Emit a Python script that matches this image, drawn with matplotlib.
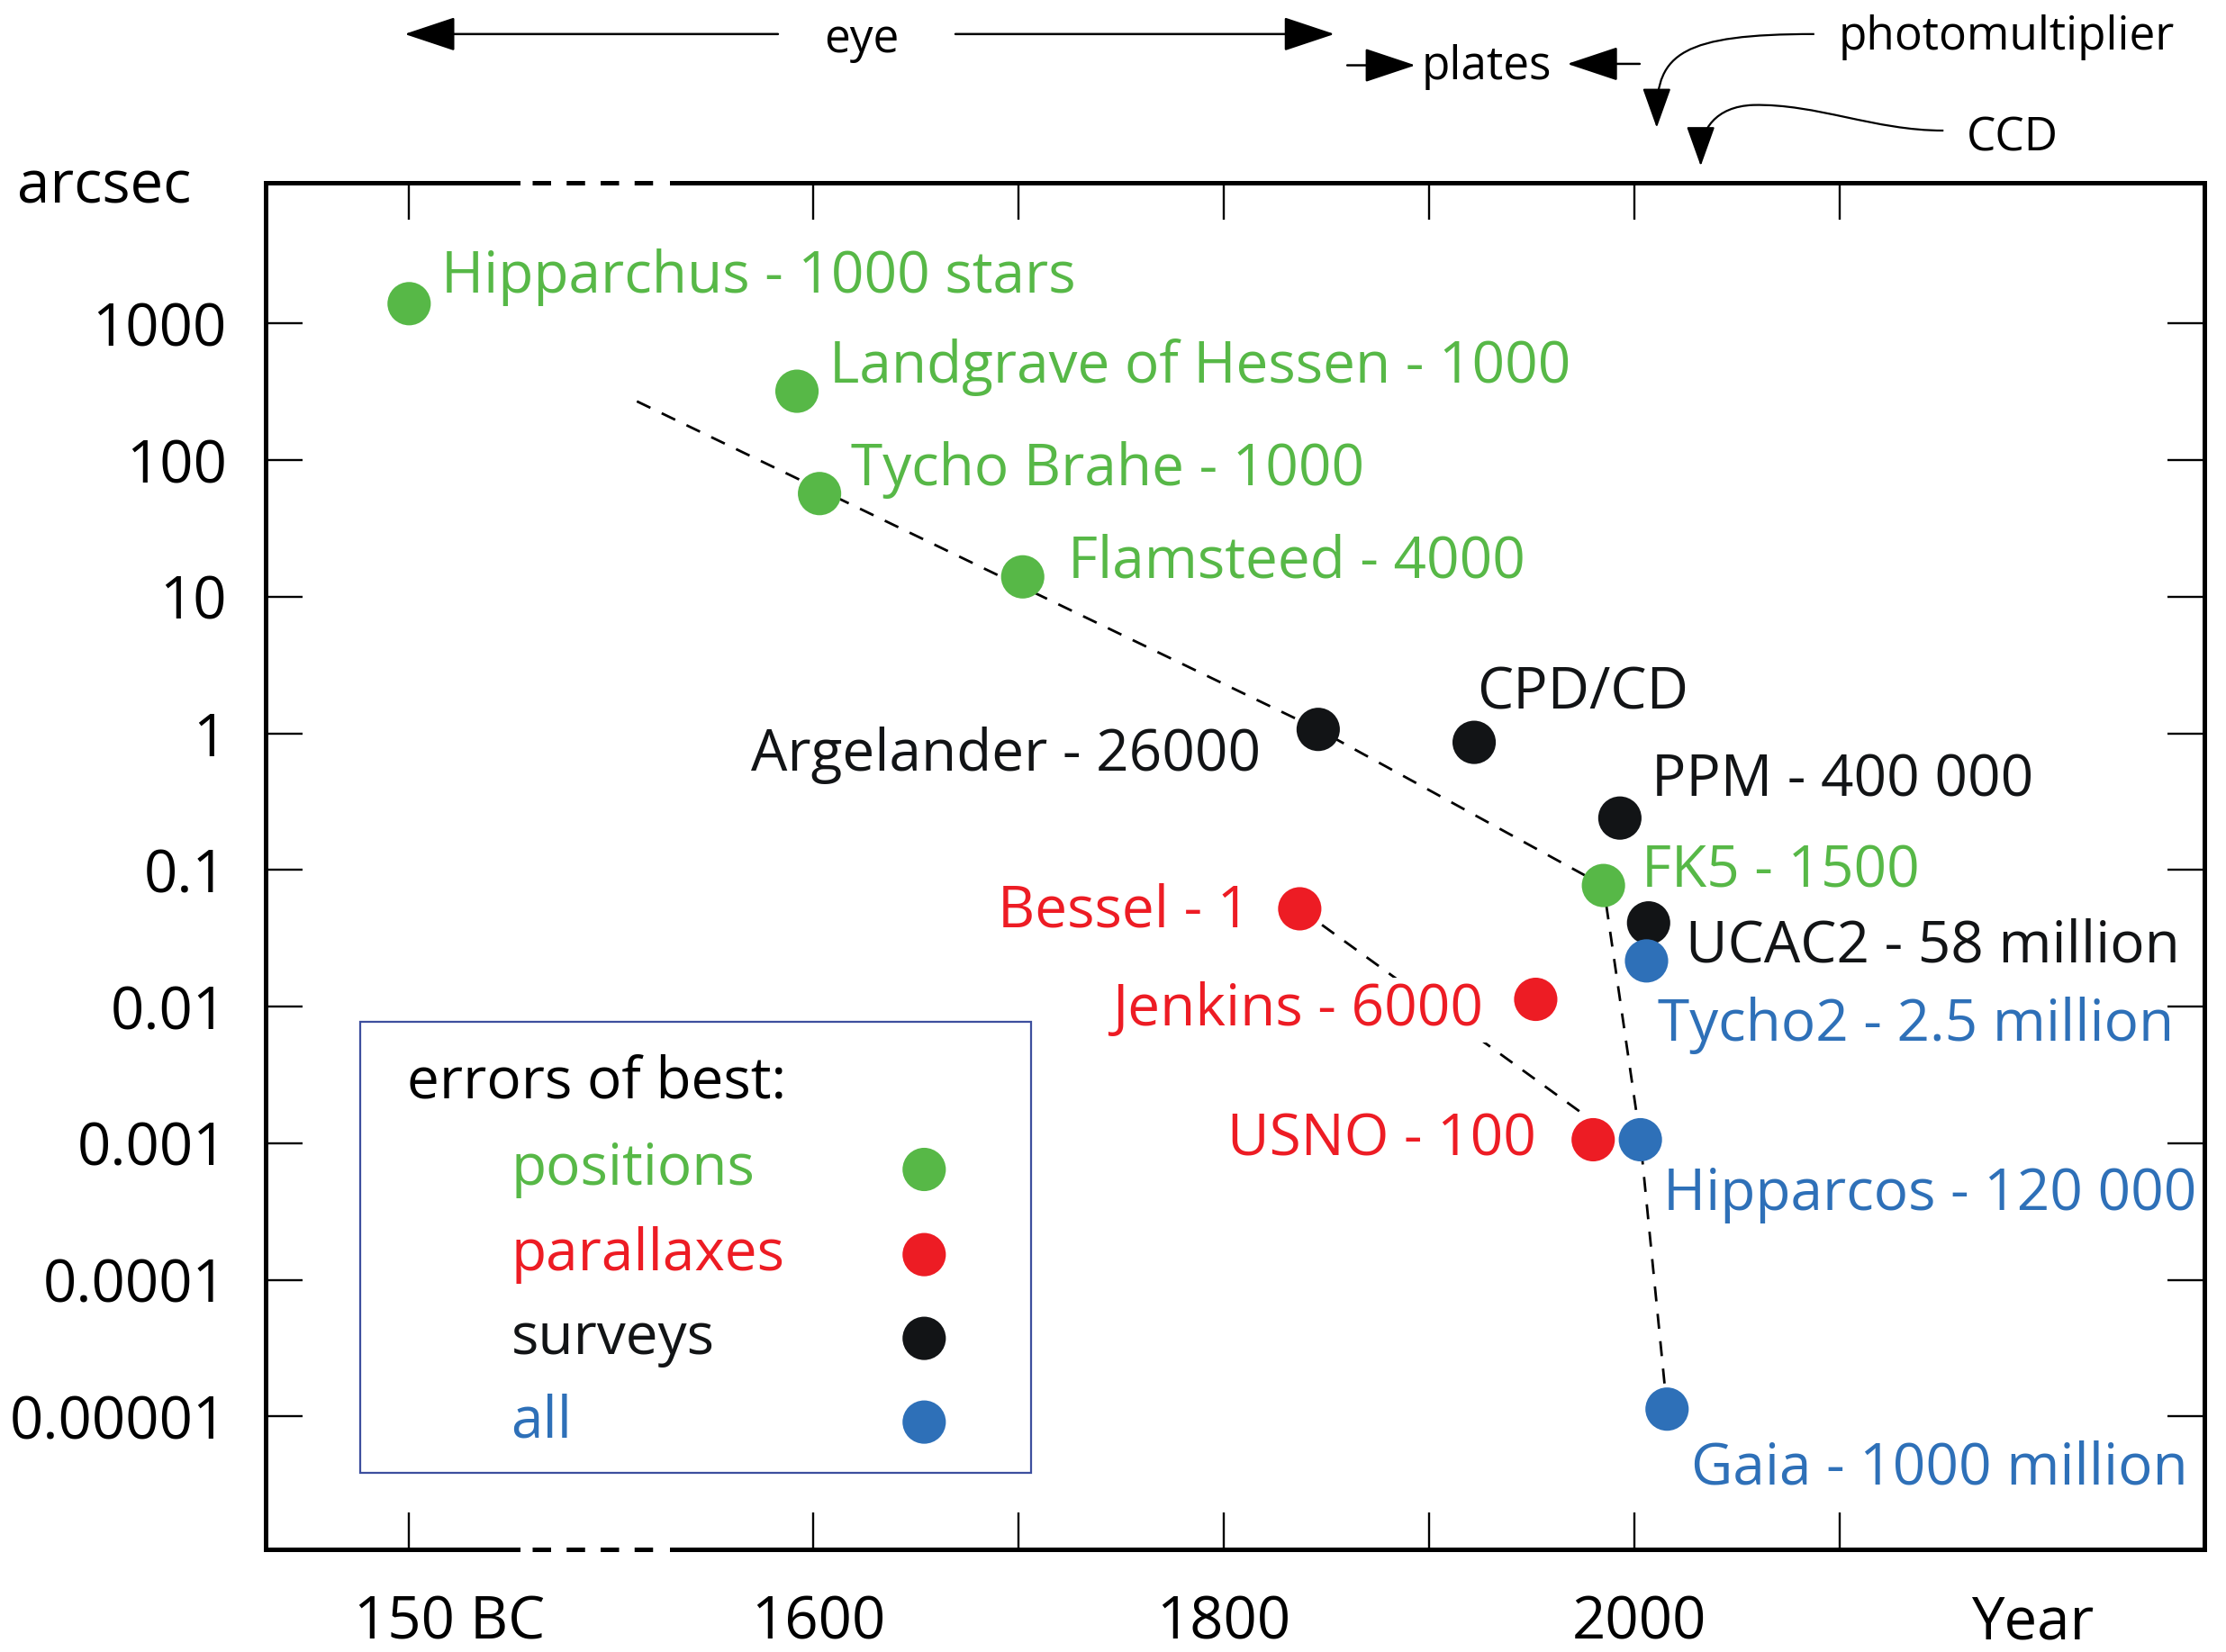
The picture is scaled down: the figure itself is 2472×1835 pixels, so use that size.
import numpy as np
import matplotlib
matplotlib.use("Agg")
import matplotlib.pyplot as plt
from matplotlib.patches import FancyArrowPatch, PathPatch, Rectangle, ArrowStyle
from matplotlib.path import Path
from matplotlib.transforms import Affine2D, blended_transform_factory

plt.rcParams['font.family'] = ['Open Sans', 'DejaVu Sans']

GREEN = '#57b847'
RED = '#ed1c24'
BLACK = '#121416'
BLUE = '#2e70b8'

# best errors (arcsec) against year; Hipparchus is 150 BC
pos_names = ['Hipparchus - 1000 stars', 'Landgrave of Hessen - 1000',
             'Tycho Brahe - 1000', 'Flamsteed - 4000', 'FK5 - 1500']
pos_years = [-150, 1592, 1603, 1702, 1985]
pos_err = [1400, 320, 57, 14, 0.077]

par_names = ['Bessel - 1', 'Jenkins - 6000', 'USNO - 100']
par_years = [1837, 1952, 1980]
par_err = [0.052, 0.0113, 0.00106]

srv_names = ['Argelander - 26000', 'CPD/CD', 'PPM - 400 000', 'UCAC2 - 58 million']
srv_years = [1846, 1922, 1993, 2007]
srv_err = [1.07, 0.86, 0.24, 0.041]

all_names = ['Tycho2 - 2.5 million', 'Hipparcos - 120 000', 'Gaia - 1000 million']
all_years = [2006, 2003, 2016]
all_err = [0.0216, 0.00106, 1.13e-5]

# dashed trend lines
trend_years = [1514, 1846, 1985, 2003, 2016]
trend_err = [270, 1.07, 0.077, 0.00106, 1.13e-5]
par_trend_years = [1837, 1976]
par_trend_err = [0.052, 0.0016]

ytick_vals = [1e3, 1e2, 1e1, 1, 0.1, 0.01, 1e-3, 1e-4, 1e-5]
ytick_labels = ['1000', '100', '10', '1', '0.1', '0.01', '0.001', '0.0001', '0.00001']
xtick_years = [-150, 1600, 1700, 1800, 1900, 2000, 2100]
xlabel_years = [-150, 1600, 1800, 2000]
xlabel_text = ['150 BC', '1600', '1800', '2000']

# label offsets (points) and alignment, per group
pos_off = [(13, 10.5, 'left'), (13, 9.5, 'left'), (12.5, 9.5, 'left'), (18, 6, 'left'), (15.3, 5.4, 'left')]
par_off = [(-20, -1, 'right'), (-21, -4.3, 'right'), (-22.7, -0.3, 'right')]
srv_off = [(-23, -10.5, 'right'), (1, 19.6, 'left'), (12.5, 15, 'left'), (14.8, -9.4, 'left')]
all_off = [(4.5, -25.8, 'left'), (9, -22, 'left'), (9.6, -24, 'left')]


def fwd(x):
    x = np.asarray(x, dtype=float)
    return np.where(x < 1000, x + 1553, x)


def inv(x):
    x = np.asarray(x, dtype=float)
    return np.where(x < 1494, x - 1553, x)


fig = plt.figure(figsize=(12.36, 9.175), dpi=200)
ref = Affine2D().scale(1 / 1568, -1 / 1164).translate(0, 1) + fig.transFigure
ax = fig.add_axes([0.11926, 0.061856, 0.87117, 0.82732])

ax.set_xscale('function', functions=(fwd, inv))
ax.set_yscale('log')
ax.set_xlim(-220, 2278)
ax.set_ylim(10 ** -5.977, 10 ** 4.029)

# trend lines
ax.plot(trend_years, trend_err, color='black', lw=1.0, ls=(0, (6, 5)), zorder=1)
ax.plot(par_trend_years, par_trend_err, color='black', lw=1.0, ls=(0, (6, 5)), zorder=1)

groups = [
    (pos_names, pos_years, pos_err, pos_off, GREEN),
    (par_names, par_years, par_err, par_off, RED),
    (srv_names, srv_years, srv_err, srv_off, BLACK),
    (all_names, all_years, all_err, all_off, BLUE),
]
for names, years, errs, offs, col in groups:
    ax.scatter(years, errs, s=300, color=col, edgecolors='none', zorder=3, clip_on=False)
    for name, yr, e, (dx, dy, ha) in zip(names, years, errs, offs):
        kw = {}
        if name.startswith('Jenkins'):
            kw['bbox'] = dict(facecolor='white', edgecolor='none', pad=1.5)
        ax.annotate(name, (yr, e), xytext=(dx, dy), textcoords='offset points',
                    ha=ha, va='center', fontsize=23, color=col, zorder=4, **kw)

# axes frame: broken top and bottom spines
ax.spines['top'].set_visible(False)
ax.spines['bottom'].set_visible(False)
for s in ['left', 'right']:
    ax.spines[s].set_linewidth(1.8)
bt = blended_transform_factory(ax.transData, ax.transAxes)
for yy in [0, 1]:
    ax.plot([-220, -97], [yy, yy], color='black', lw=1.8, transform=bt, clip_on=False,
            solid_capstyle='projecting')
    ax.plot([-90, 1522], [yy, yy], color='black', lw=1.8, transform=bt, clip_on=False,
            ls=(0, (4.1, 3.45)), dash_capstyle='butt')
    ax.plot([1531, 2278], [yy, yy], color='black', lw=1.8, transform=bt, clip_on=False,
            solid_capstyle='projecting')

ax.set_yticks(ytick_vals)
ax.set_yticklabels(ytick_labels)
ax.yaxis.set_minor_locator(matplotlib.ticker.NullLocator())
ax.tick_params(axis='y', which='major', direction='in', length=14.8, width=0.85,
               left=True, right=True, labelsize=23.5, pad=15.5)
ax.set_xticks(xtick_years)
ax.set_xticklabels([])
ax.xaxis.set_minor_locator(matplotlib.ticker.NullLocator())
ax.tick_params(axis='x', which='major', direction='in', length=14.8, width=0.85,
               top=True, bottom=True)

x_dx = [16, 2, 0, 2]
for yr, txt, dx in zip(xlabel_years, xlabel_text, x_dx):
    ax.annotate(txt, (yr, 0), xycoords=bt, xytext=(dx, -29.5), textcoords='offset points',
                ha='center', va='center', fontsize=23.5, annotation_clip=False)
fig.text(1432, 1144, 'Year', transform=ref, ha='center', va='center', fontsize=23.5)
fig.text(12, 143, 'arcsec', transform=ref, ha='left', va='baseline', fontsize=23.5)

# legend box
ax.add_patch(Rectangle((254, 720), 472, 318, transform=ref, fill=False,
                       edgecolor='#3d4f9e', lw=0.8, clip_on=False))
fig.text(287, 763, 'errors of best:', transform=ref, ha='left', va='center', fontsize=23)
leg_labels = ['positions', 'parallaxes', 'surveys', 'all']
leg_colors = [GREEN, RED, BLACK, BLUE]
leg_rows = [824, 884, 943, 1002]
for lab, col, yy in zip(leg_labels, leg_colors, leg_rows):
    fig.text(360, yy, lab, transform=ref, ha='left', va='center', fontsize=23, color=col)
    ax.scatter([651], [yy], s=300, color=col, edgecolors='none', transform=ref,
               clip_on=False, zorder=3)

# detector annotations on top
style = ArrowStyle('-|>', head_length=18, head_width=6)
small = ArrowStyle('-|>', head_length=14, head_width=5)
for a, b in [((548, 24), (285, 24)), ((673, 24), (940, 24)),
             ((949, 46), (997, 46)), ((1155, 45), (1104, 45))]:
    fig.add_artist(FancyArrowPatch(a, b, arrowstyle=style, mutation_scale=1, lw=0.9,
                                   color='black', transform=ref, shrinkA=0, shrinkB=0))
fig.text(607, 37, 'eye', transform=ref, ha='center', va='baseline', fontsize=18.5)
fig.text(1047, 56, 'plates', transform=ref, ha='center', va='baseline', fontsize=18.5)
fig.text(1295, 35, 'photomultiplier', transform=ref, ha='left', va='baseline', fontsize=18.5)
fig.text(1385, 106, 'CCD', transform=ref, ha='left', va='baseline', fontsize=18.5)

pm = Path([(1278, 24), (1185, 24), (1167, 38), (1167, 80)],
          [Path.MOVETO, Path.CURVE4, Path.CURVE4, Path.CURVE4])
ccd = Path([(1369, 92), (1320, 92), (1280, 73), (1235, 74),
            (1208, 75), (1198, 92), (1198, 108)],
           [Path.MOVETO, Path.CURVE4, Path.CURVE4, Path.CURVE4,
            Path.CURVE4, Path.CURVE4, Path.CURVE4])
for p in [pm, ccd]:
    fig.add_artist(PathPatch(p, fill=False, lw=0.8, edgecolor='black', transform=ref))
for a, b in [((1167, 72), (1167, 90)), ((1198, 100), (1198, 117))]:
    fig.add_artist(FancyArrowPatch(a, b, arrowstyle=small, mutation_scale=1, lw=0.8,
                                   color='black', transform=ref, shrinkA=0, shrinkB=0))

fig.savefig('out.png', dpi=200)
